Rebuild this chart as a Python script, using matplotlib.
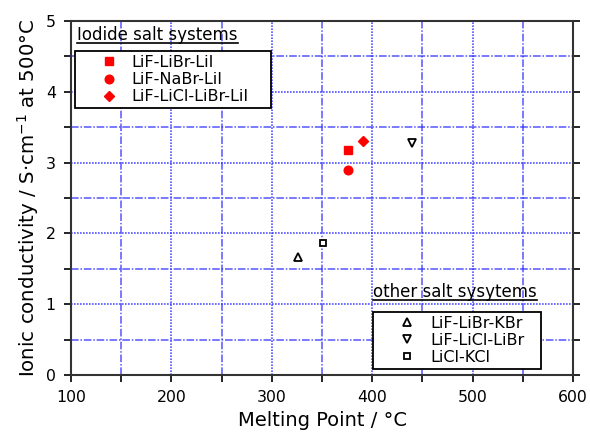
import matplotlib
matplotlib.use('Agg')
import matplotlib.pyplot as plt
from matplotlib.lines import Line2D
from matplotlib.legend_handler import HandlerLine2D
from matplotlib.ticker import MultipleLocator

plt.rcParams['font.family'] = ['DejaVu Sans']
plt.rcParams['mathtext.fontset'] = 'dejavusans'

# iodide salt systems (melting point / degC, conductivity / S cm-1)
iodide_names = ['LiF-LiBr-LiI', 'LiF-NaBr-LiI', 'LiF-LiCl-LiBr-LiI']
iodide_mp = [376, 376, 391]
iodide_sigma = [3.18, 2.90, 3.31]
iodide_markers = ['s', 'o', 'D']

# other salt systems
other_names = ['LiF-LiBr-KBr', 'LiF-LiCl-LiBr', 'LiCl-KCl']
other_mp = [326, 440, 351]
other_sigma = [1.66, 3.28, 1.86]
other_markers = ['^', 'v', 's']

fig = plt.figure(figsize=(5.9, 4.34), dpi=100)
ax = fig.add_axes([71 / 590, 1 - 375 / 434, 502 / 590, 354 / 434])

for name, x, y, m in zip(iodide_names, iodide_mp, iodide_sigma, iodide_markers):
    size = {'s': 5.5, 'o': 6.2, 'D': 5.5}[m]
    ax.plot(x, y, m, color='red', ms=size, mec='red', label=name, zorder=5)

for name, x, y, m in zip(other_names, other_mp, other_sigma, other_markers):
    size = {'^': 6, 'v': 6, 's': 5}[m]
    ax.plot(x, y, m, mfc='white', mec='black', mew=1.3, ms=size, label=name, zorder=5)

ax.set_xlim(100, 600)
ax.set_ylim(0, 5)
ax.xaxis.set_major_locator(MultipleLocator(100))
ax.xaxis.set_minor_locator(MultipleLocator(50))
ax.yaxis.set_major_locator(MultipleLocator(1))
ax.yaxis.set_minor_locator(MultipleLocator(0.5))
ax.grid(True, which='major', color='#2a2aff', linestyle=(0, (1, 0.8)), linewidth=1.2, alpha=0.8)
ax.grid(True, which='minor', color='#2a2aff', linestyle=(0, (5, 1.2, 1, 1.2)), linewidth=1.1, alpha=0.8)
ax.tick_params(which='both', direction='out', length=5, width=1.2, pad=6,
               labelsize=11.3, colors='black')
ax.tick_params(which='both', right=True, top=False)
for s in ax.spines.values():
    s.set_linewidth(1.5)
    s.set_color('#333333')

ax.set_xlabel('Melting Point / °C', fontsize=14, labelpad=4)
ax.set_ylabel('Ionic conductivity / S·cm$^{-1}$ at 500°C', fontsize=14.2, labelpad=3)

h, l = ax.get_legend_handles_labels()
leg_kw = dict(frameon=True, fancybox=False, framealpha=1, edgecolor='black',
              fontsize=11.5, handlelength=2, handletextpad=1.3, labelspacing=0.13,
              borderpad=0.25, borderaxespad=0, mode='expand',
              handler_map={Line2D: HandlerLine2D(xpad=1.75)})
leg1 = ax.legend(h[:3], l[:3], loc='upper left', bbox_to_anchor=(0.008, 0.0, 0.39, 0.915), **leg_kw)
leg1.get_frame().set_linewidth(1.3)
ax.add_artist(leg1)
leg2 = ax.legend(h[3:], l[3:], loc='lower left', bbox_to_anchor=(0.602, 0.017, 0.335, 0.5), **leg_kw)
leg2.get_frame().set_linewidth(1.3)

# underlined titles above each legend box
t1 = ax.text(0.012, 0.935, 'Iodide salt systems', transform=ax.transAxes,
             fontsize=12, va='bottom', ha='left')
t2 = ax.text(0.602, 0.21, 'other salt sysytems', transform=ax.transAxes,
             fontsize=12, va='bottom', ha='left')
fig.canvas.draw()
r = fig.canvas.get_renderer()
for t in (t1, t2):
    bb = t.get_window_extent(r)
    fx0, fy = fig.transFigure.inverted().transform((bb.x0, bb.y0 + 1))
    fx1, _ = fig.transFigure.inverted().transform((bb.x1, bb.y0 + 1))
    fig.add_artist(Line2D([fx0, fx1], [fy, fy], color='black', lw=1.2))

fig.savefig('out.png', dpi=100)
